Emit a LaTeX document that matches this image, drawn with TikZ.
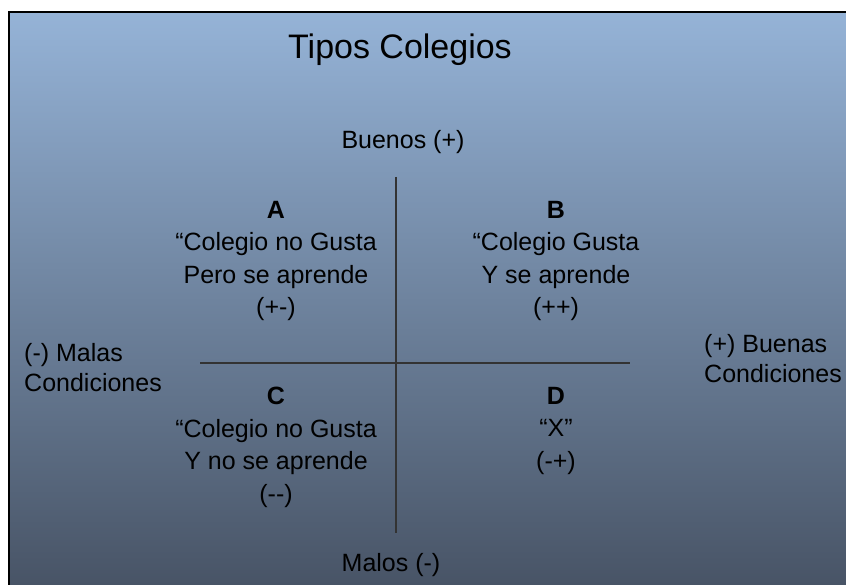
\documentclass[tikz,border=0pt]{standalone}
\usepackage{fontspec}
\setmainfont{Liberation Sans}
\usepackage{xcolor}
\usetikzlibrary{positioning}

\definecolor{slidetop}{RGB}{149,179,215}
\definecolor{slidebot}{RGB}{72,84,102}

\tikzset{
  quadtext/.style={align=center, anchor=north, inner sep=0pt, font=\fontsize{25}{32.5}\selectfont},
  sidetext/.style={align=left, anchor=north west, inner sep=0pt, font=\fontsize{25}{30}\selectfont},
  axislabel/.style={inner sep=0pt, font=\fontsize{25}{28}\selectfont},
  axisline/.style={draw=black!80, line width=1.2pt}
}

\begin{document}
\begin{tikzpicture}[x=1pt, y=-1pt]
  \useasboundingbox (0,0) rectangle (846,585);

  % Background and frame
  \shade[top color=slidetop, bottom color=slidebot] (9,12) rectangle (846,585);
  \draw[line width=2.5pt] (9,585) -- (9,12) -- (846,12);

  % Title
  \node[inner sep=0pt, font=\fontsize{34}{40}\selectfont] (title) at (400,50) {Tipos Colegios};

  % Axes
  \coordinate (ytop) at (396,177);
  \coordinate (ybot) at (396,533);
  \coordinate (xleft) at (200,363);
  \coordinate (xright) at (630,363);
  \draw[axisline] (ytop) -- (ybot);
  \draw[axisline] (xleft) -- (xright);

  % Axis labels
  \node[axislabel] (good) at (403,142) {Buenos (+)};
  \node[axislabel] (bad) at (391,565) {Malos (-)};
  \node[sidetext] (badcond) at (24,343) {(-) Malas\\Condiciones};
  \node[sidetext] (goodcond) at (704,334) {(+) Buenas\\Condiciones};

  % Quadrants
  \node[quadtext] (quadA) at (276,201) {\textbf{A}\\“Colegio no Gusta\\Pero se aprende\\(+-)};
  \node[quadtext] (quadB) at (556,201) {\textbf{B}\\“Colegio Gusta\\Y se aprende\\(++)};
  \node[quadtext] (quadC) at (276,387) {\textbf{C}\\“Colegio no Gusta\\Y no se aprende\\(-{}-)};
  \node[quadtext] (quadD) at (556,387) {\textbf{D}\\“X”\\(-+)};
\end{tikzpicture}
\end{document}
